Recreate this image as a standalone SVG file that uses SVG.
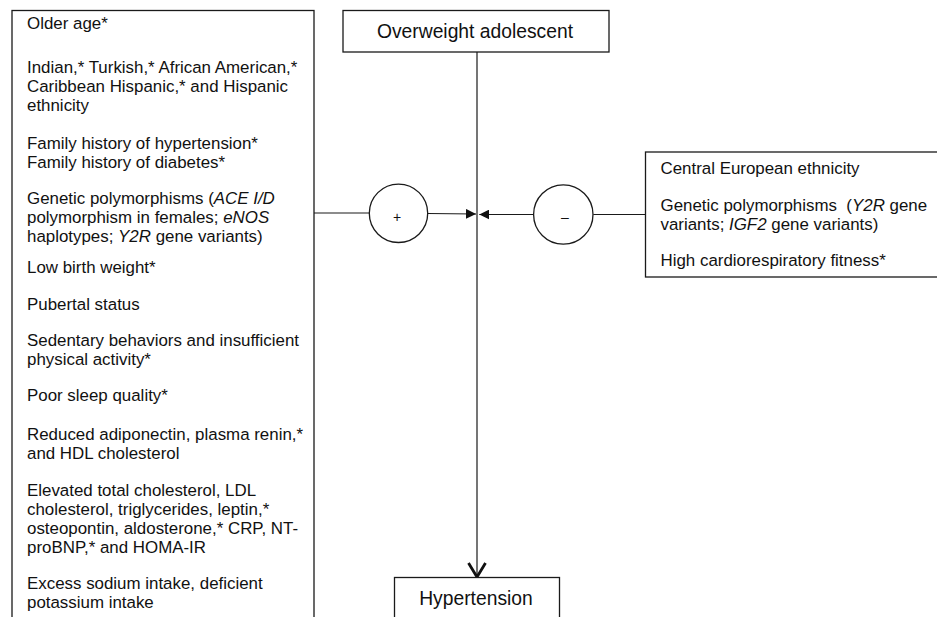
<svg xmlns="http://www.w3.org/2000/svg" width="937" height="617" viewBox="0 0 937 617">
<style>
.box{fill:#fff;stroke:#1a1a1a;stroke-width:1.3}
.t{font-family:"Liberation Sans",Arial,sans-serif;font-size:16.9px;fill:#111}
.h{font-family:"Liberation Sans",Arial,sans-serif;font-size:19.3px;fill:#111;text-anchor:middle}
.s{font-family:"Liberation Sans",Arial,sans-serif;font-size:14px;fill:#111;text-anchor:middle}
.i{font-style:italic}
.ln{fill:none;stroke:#1a1a1a;stroke-width:1.2}
</style>
<defs>
<marker id="tri" viewBox="0 0 10 10" refX="10" refY="5" markerWidth="10" markerHeight="10" markerUnits="userSpaceOnUse" orient="auto">
<path d="M0,0 L10,5 L0,10 Z" fill="#111"/>
</marker>
<marker id="vee" viewBox="0 0 20 20" refX="17" refY="10" markerWidth="20" markerHeight="20" markerUnits="userSpaceOnUse" orient="auto">
<path d="M3,1.5 L17,10 L3,18.5" fill="none" stroke="#111" stroke-width="2.8"/>
</marker>
</defs>
<rect width="937" height="617" fill="#fff"/>
<g id="connectors">
<line class="ln" x1="477" y1="52" x2="477" y2="577" marker-end="url(#vee)"/>
<line class="ln" x1="314" y1="213" x2="369.3" y2="213"/>
<line class="ln" x1="427.7" y1="213.5" x2="476" y2="214" marker-end="url(#tri)"/>
<line class="ln" x1="645.5" y1="214.5" x2="593.3" y2="214.5"/>
<line class="ln" x1="533.3" y1="214.5" x2="479.3" y2="214.5" marker-end="url(#tri)"/>
</g>
<g id="risk-factors">
<rect class="box" x="12" y="10.5" width="302" height="620"/>
<text class="t" x="27" y="29">Older age*</text>
<text class="t" x="27" y="73">Indian,* Turkish,* African American,*</text>
<text class="t" x="27" y="92">Caribbean Hispanic,* and Hispanic</text>
<text class="t" x="27" y="111">ethnicity</text>
<text class="t" x="27" y="149">Family history of hypertension*</text>
<text class="t" x="27" y="168">Family history of diabetes*</text>
<text class="t" x="27" y="204">Genetic polymorphisms (<tspan class="i">ACE I/D</tspan></text>
<text class="t" x="27" y="223">polymorphism in females; <tspan class="i">eNOS</tspan></text>
<text class="t" x="27" y="242">haplotypes; <tspan class="i">Y2R</tspan> gene variants)</text>
<text class="t" x="27" y="273">Low birth weight*</text>
<text class="t" x="27" y="310">Pubertal status</text>
<text class="t" x="27" y="346">Sedentary behaviors and insufficient</text>
<text class="t" x="27" y="365">physical activity*</text>
<text class="t" x="27" y="401">Poor sleep quality*</text>
<text class="t" x="27" y="440">Reduced adiponectin, plasma renin,*</text>
<text class="t" x="27" y="459">and HDL cholesterol</text>
<text class="t" x="27" y="496">Elevated total cholesterol, LDL</text>
<text class="t" x="27" y="515">cholesterol, triglycerides, leptin,*</text>
<text class="t" x="27" y="534">osteopontin, aldosterone,* CRP, NT-</text>
<text class="t" x="27" y="553">proBNP,* and HOMA-IR</text>
<text class="t" x="27" y="589">Excess sodium intake, deficient</text>
<text class="t" x="27" y="608">potassium intake</text>
</g>
<g id="overweight-adolescent">
<rect class="box" x="343" y="10.5" width="266" height="41.5"/>
<text class="h" x="475" y="38">Overweight adolescent</text>
</g>
<g id="plus">
<circle class="box" cx="398.5" cy="213.3" r="29.2"/>
<text class="s" x="397" y="222">+</text>
</g>
<g id="minus">
<circle class="box" cx="563.3" cy="214.5" r="29.7"/>
<text class="s" x="565" y="222">–</text>
</g>
<g id="protective-factors">
<rect class="box" x="645.5" y="152" width="320" height="125"/>
<text class="t" x="660.5" y="174">Central European ethnicity</text>
<text class="t" x="660.5" y="211" xml:space="preserve">Genetic polymorphisms  (<tspan class="i">Y2R</tspan> gene</text>
<text class="t" x="660.5" y="230">variants; <tspan class="i">IGF2</tspan> gene variants)</text>
<text class="t" x="660.5" y="266">High cardiorespiratory fitness*</text>
</g>
<g id="hypertension">
<rect class="box" x="394.5" y="577.5" width="165" height="60"/>
<text class="h" x="476" y="605">Hypertension</text>
</g>
</svg>
